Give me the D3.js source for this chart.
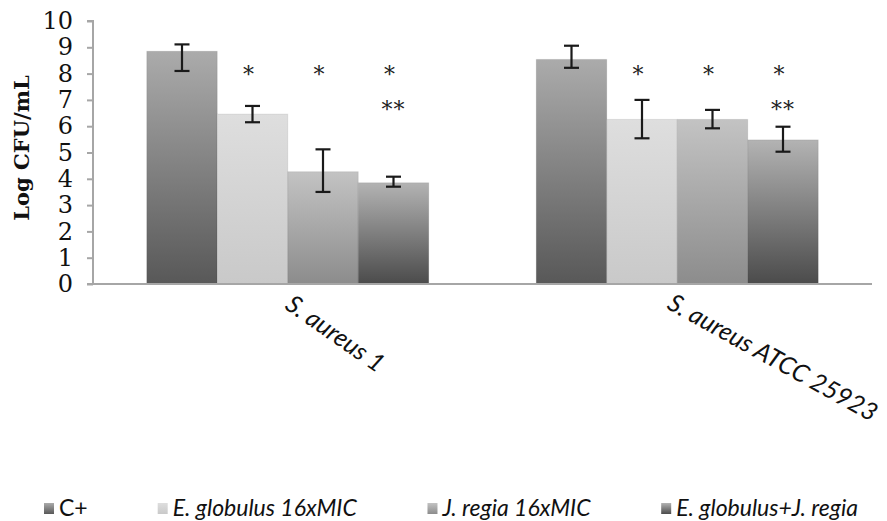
<!DOCTYPE html>
<html>
<head>
<meta charset="utf-8">
<script src="https://cdn.jsdelivr.net/npm/d3@7"></script>
<style>
  body { margin: 0; background: #fff; }
  svg { display: block; }
</style>
</head>
<body>
<svg id="chart" width="887" height="521"></svg>
<script>
// chart data
const categories = ['S. aureus 1', 'S. aureus ATCC 25923'];
const seriesNames = ['C+', 'E. globulus 16xMIC', 'J. regia 16xMIC', 'E. globulus+J. regia'];
const means = [
  [8.85, 6.46, 4.27, 3.85],
  [8.54, 6.26, 6.26, 5.48]
];
// error bar extents above / below the mean
const errPlus = [
  [0.26, 0.31, 0.85, 0.23],
  [0.52, 0.74, 0.36, 0.50]
];
const errMinus = [
  [0.75, 0.31, 0.77, 0.15],
  [0.32, 0.72, 0.34, 0.45]
];
// significance marks per bar ('' = none)
const starsTop = [
  ['', '*', '*', '*'],
  ['', '*', '*', '*']
];
const starsBottom = [
  ['', '', '', '**'],
  ['', '', '', '**']
];
const starLevels = [7.68, 6.35];
const yTicks = [0, 1, 2, 3, 4, 5, 6, 7, 8, 9, 10];

// gradient stops (top, bottom) per series
const seriesColors = [
  ['#ababab', '#585858'],
  ['#dedede', '#c9c9c9'],
  ['#c3c3c3', '#8c8c8c'],
  ['#b3b3b3', '#4b4b4b']
];

const svg = d3.select('#chart');
const width = 887, height = 521;
const plot = { left: 93, right: 872, top: 21, bottom: 284 };

const x0 = d3.scaleBand()
  .domain(categories)
  .range([plot.left, plot.right])
  .paddingInner(0.276)
  .paddingOuter(0.138);

const x1 = d3.scaleBand()
  .domain(seriesNames)
  .range([0, x0.bandwidth()]);

const y = d3.scaleLinear()
  .domain([0, 10])
  .range([plot.bottom, plot.top]);

// gradients
const defs = svg.append('defs');
seriesColors.forEach((c, i) => {
  const g = defs.append('linearGradient')
    .attr('id', 'grad' + i)
    .attr('x1', '0%').attr('y1', '0%')
    .attr('x2', '0%').attr('y2', '100%');
  g.append('stop').attr('offset', '0%').attr('stop-color', c[0]);
  g.append('stop').attr('offset', '100%').attr('stop-color', c[1]);
});

// Y axis
const yAxis = svg.append('g')
  .attr('transform', `translate(${plot.left},0)`)
  .call(d3.axisLeft(y).tickValues(yTicks).tickSize(6).tickPadding(14).tickFormat(d3.format('d')));
yAxis.select('.domain').attr('stroke', '#a6a6a6').attr('stroke-width', 2)
  .attr('d', `M-6,${y(10)}H0V${y(0)}`);
yAxis.selectAll('.tick line').attr('stroke', '#a6a6a6').attr('stroke-width', 2);
yAxis.selectAll('.tick text')
  .attr('fill', '#111')
  .attr('font-family', '"DejaVu Serif", serif')
  .attr('font-size', 24);

// Y axis title
svg.append('text')
  .attr('transform', `translate(29,148) rotate(-90)`)
  .attr('text-anchor', 'middle')
  .attr('font-family', '"DejaVu Serif", serif')
  .attr('font-weight', 'bold')
  .attr('font-size', 21)
  .attr('fill', '#111')
  .text('Log CFU/mL');

// bars
const groups = svg.append('g').selectAll('g')
  .data(categories)
  .join('g')
  .attr('transform', d => `translate(${x0(d)},0)`);

const barData = (cat, ci) => seriesNames.map((s, si) => ({
  cat, ci, s, si,
  v: means[ci][si],
  hi: means[ci][si] + errPlus[ci][si],
  lo: means[ci][si] - errMinus[ci][si],
  top: starsTop[ci][si],
  bot: starsBottom[ci][si]
}));
const mid = d => x1(d.s) + x1.bandwidth() / 2;

groups.selectAll('rect')
  .data((d, i) => barData(d, i))
  .join('rect')
  .attr('x', d => x1(d.s))
  .attr('y', d => y(d.v))
  .attr('width', x1.bandwidth())
  .attr('height', d => y(0) - y(d.v))
  .attr('fill', d => `url(#grad${d.si})`)
  .attr('stroke', 'rgba(0,0,0,0.08)')
  .attr('stroke-width', 1);

// error bars
const capW = 15;
const eb = groups.selectAll('g.err')
  .data((d, i) => barData(d, i))
  .join('g')
  .attr('class', 'err')
  .attr('stroke', '#1a1a1a')
  .attr('stroke-width', 2.2)
  .attr('fill', 'none');
eb.append('line')
  .attr('x1', mid).attr('x2', mid)
  .attr('y1', d => y(d.hi))
  .attr('y2', d => y(d.lo));
eb.append('line')
  .attr('x1', d => mid(d) - capW / 2)
  .attr('x2', d => mid(d) + capW / 2)
  .attr('y1', d => y(d.hi))
  .attr('y2', d => y(d.hi));
eb.append('line')
  .attr('x1', d => mid(d) - capW / 2)
  .attr('x2', d => mid(d) + capW / 2)
  .attr('y1', d => y(d.lo))
  .attr('y2', d => y(d.lo));

// significance stars
groups.selectAll('text.star1')
  .data((d, i) => barData(d, i).filter(b => b.top))
  .join('text')
  .attr('class', 'star1')
  .attr('x', d => mid(d) - 4)
  .attr('y', y(starLevels[0]))
  .attr('text-anchor', 'middle')
  .attr('font-family', '"DejaVu Serif", serif')
  .attr('font-size', 22)
  .attr('fill', '#222')
  .text(d => d.top);
groups.selectAll('text.star2')
  .data((d, i) => barData(d, i).filter(b => b.bot))
  .join('text')
  .attr('class', 'star2')
  .attr('x', mid)
  .attr('y', y(starLevels[1]))
  .attr('text-anchor', 'middle')
  .attr('font-family', '"DejaVu Serif", serif')
  .attr('font-size', 22)
  .attr('letter-spacing', 1)
  .attr('fill', '#222')
  .text(d => d.bot);

// X axis line
svg.append('line')
  .attr('x1', plot.left - 6).attr('x2', plot.right)
  .attr('y1', y(0)).attr('y2', y(0))
  .attr('stroke', '#a6a6a6')
  .attr('stroke-width', 2);

// category labels, rotated (the long one is flattened to fit, as in the source)
const labelAngles = [35, 29];
const labelSize = 25;
const catLabels = svg.append('g').selectAll('text')
  .data(categories)
  .join('text')
  .attr('font-family', 'Lato, sans-serif')
  .attr('font-style', 'italic')
  .attr('font-size', labelSize)
  .attr('fill', '#111')
  .attr('text-anchor', 'start')
  .text(d => d);
catLabels.each(function (d, i) {
  const a = labelAngles[i] * Math.PI / 180;
  const len = this.getComputedTextLength();
  // horizontal footprint of the rotated text box, descent included
  const extent = len * Math.cos(a) + labelSize * 0.3 * Math.sin(a) + 4;
  const cx = x0(d) + x0.bandwidth() / 2;
  const lx = Math.min(cx - 4, width - 8 - extent);
  d3.select(this).attr('transform', `translate(${lx},${y(0) + 24}) rotate(${labelAngles[i]})`);
});

// legend
const legend = svg.append('g');
const items = legend.selectAll('g')
  .data(seriesNames)
  .join('g');
items.append('rect')
  .attr('width', 10).attr('height', 11)
  .attr('y', -13)
  .attr('fill', (d, i) => `url(#grad${i})`);
items.append('text')
  .attr('x', 15)
  .attr('font-family', 'Lato, sans-serif')
  .attr('font-style', (d, i) => i === 0 ? 'normal' : 'italic')
  .attr('font-size', 23)
  .attr('fill', '#111')
  .text(d => d);
const legendLeft = 44, legendRight = 858;
const widths = [];
items.each(function () { widths.push(this.getBBox().width); });
const gap = (legendRight - legendLeft - d3.sum(widths)) / (widths.length - 1);
let lx = legendLeft;
items.each(function (d, i) {
  d3.select(this).attr('transform', `translate(${lx},516)`);
  lx += widths[i] + gap;
});
</script>
</body>
</html>
